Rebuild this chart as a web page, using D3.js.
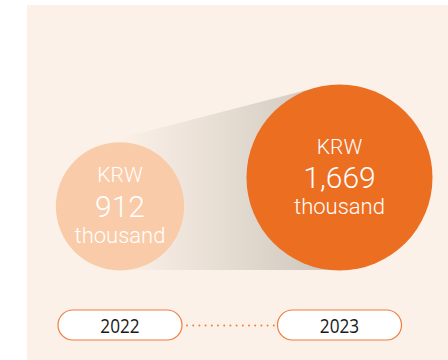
<!DOCTYPE html>
<html>
<head>
<meta charset="utf-8">
<script src="https://cdn.jsdelivr.net/npm/d3@7"></script>
<style>
  html, body { margin: 0; padding: 0; background: #ffffff; }
  svg { display: block; }
</style>
</head>
<body>
<svg id="chart" width="448" height="360"></svg>
<script>
// Average amount per year, in thousand KRW
const years = ["2022", "2023"];
const values = [912, 1669];
const valueLabels = ["912", "1,669"];
const currency = "KRW";
const unit = "thousand";

const svg = d3.select("#chart");
const W = 448, H = 360;

// Card background
svg.append("rect")
  .attr("x", 27).attr("y", 5)
  .attr("width", W - 27).attr("height", H - 5)
  .attr("fill", "#fcf1e8");

const x = d3.scalePoint().domain(years).range([120, 339.5]);
const r = d3.scalePow().exponent(0.615).domain([0, d3.max(values)]).range([0, 93]);
const baseY = 270.5;

const nodes = years.map((y, i) => ({
  year: y, value: values[i], label: valueLabels[i],
  cx: x(y), r: r(values[i]), cy: baseY - r(values[i])
}));

// Soft shadow band joining the two circles along their upper tangent
const [a, b] = nodes;
const dx = b.cx - a.cx, dy = b.cy - a.cy, dist = Math.hypot(dx, dy);
const base = Math.atan2(dy, dx);
const ang = base - Math.acos((a.r - b.r) / dist);
const nx = Math.cos(ang), ny = Math.sin(ang);
const t1 = [a.cx + a.r * nx, a.cy + a.r * ny - 2];
const t2 = [b.cx + b.r * nx, b.cy + b.r * ny];

const defs = svg.append("defs");
const grad = defs.append("linearGradient")
  .attr("id", "shade").attr("gradientUnits", "userSpaceOnUse")
  .attr("x1", a.cx).attr("x2", b.cx - 30).attr("y1", 0).attr("y2", 0);
grad.append("stop").attr("offset", 0).attr("stop-color", "#fcf1e8");
grad.append("stop").attr("offset", 1).attr("stop-color", "#d3cbc1");

svg.append("path")
  .attr("d", d3.line()([t1, t2, [b.cx, b.cy], [b.cx, baseY - 0.5], [a.cx, baseY - 0.5], [a.cx, a.cy]]) + "Z")
  .attr("fill", "url(#shade)");

const fills = ["#f9cba8", "#ec6e21"];

const g = svg.selectAll("g.bubble").data(nodes).join("g")
  .attr("class", "bubble")
  .attr("transform", d => `translate(${d.cx},${d.cy})`);

g.append("circle").attr("r", d => d.r).attr("fill", (d, i) => fills[i]);

const textFont = "Roboto, 'Liberation Sans', sans-serif";
g.append("text").attr("y", -24).attr("text-anchor", "middle")
  .attr("font-family", textFont).attr("font-weight", 300)
  .attr("font-size", 21).attr("fill", "#ffffff")
  .text(currency);
g.append("text").attr("y", 10.5).attr("text-anchor", "middle")
  .attr("font-family", textFont).attr("font-weight", 300)
  .attr("font-size", 30).attr("fill", "#ffffff")
  .text(d => d.label);
g.append("text").attr("y", 36.5).attr("text-anchor", "middle")
  .attr("font-family", textFont).attr("font-weight", 300)
  .attr("font-size", 22).attr("fill", "#ffffff")
  .text(unit);

// Year axis: pills joined by a dotted line
const pillY = 325, pillW = 124, pillH = 30;
svg.append("line")
  .attr("x1", x(years[0]) + pillW / 2 + 5).attr("x2", x(years[1]) - pillW / 2 - 2)
  .attr("y1", pillY + 0.5).attr("y2", pillY + 0.5)
  .attr("stroke", "#ef7d3c").attr("stroke-width", 2)
  .attr("stroke-linecap", "round").attr("stroke-dasharray", "0,6.2");

const pills = svg.selectAll("g.pill").data(years).join("g")
  .attr("class", "pill")
  .attr("transform", d => `translate(${x(d)},${pillY})`);
pills.append("rect")
  .attr("x", -pillW / 2).attr("y", -pillH / 2)
  .attr("width", pillW).attr("height", pillH)
  .attr("rx", pillH / 2)
  .attr("fill", "#ffffff").attr("stroke", "#ef7d3c").attr("stroke-width", 1.2);
pills.append("text").attr("y", 7.5).attr("text-anchor", "middle")
  .attr("transform", "scale(0.86,1)")
  .attr("font-family", "'Open Sans', 'Noto Sans', sans-serif")
  .attr("font-size", 20).attr("fill", "#1a1a1a")
  .text(d => d);
</script>
</body>
</html>
